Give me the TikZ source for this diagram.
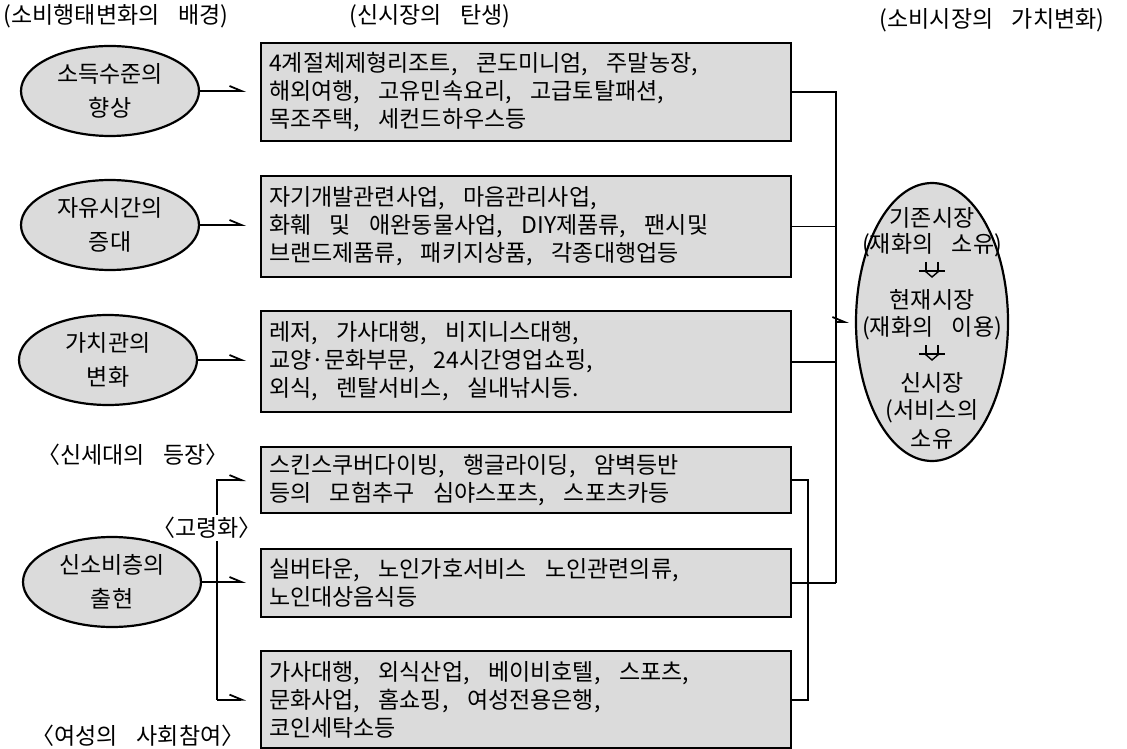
\documentclass[tikz,border=0pt]{standalone}
\usepackage{fontspec}
\setmainfont{Noto Sans CJK KR}[WordSpace=3.6]
\usetikzlibrary{arrows.meta, shapes.geometric, calc}

\begin{document}
\begin{tikzpicture}[x=0.5pt, y=-0.5pt,
        font=\fontsize{11.5}{14}\selectfont,
        cause/.style={ellipse, draw, line width=1.1pt, fill=black!14, minimum width=89pt, minimum height=45pt, inner sep=0pt, align=center, font=\fontsize{11.5}{17}\selectfont},
        market/.style={draw, line width=1.1pt, fill=black!14, anchor=north west, text width=257pt, inner xsep=4pt, inner ysep=0pt, align=flush left},
        value/.style={ellipse, draw, line width=1.1pt, fill=black!14, minimum width=76pt, minimum height=139pt, inner sep=0pt},
        harp/.style={-{Straight Barb[left, length=6pt, width=5pt]}, line width=0.9pt, shorten >=7pt},
        link/.style={line width=0.9pt},
        passarrow/.pic={
            \draw[line width=0.7pt] (-13,0) -- (13,0) (-6,-9) -- (-6,0) (6,-9) -- (6,0);
            \draw[line width=0.7pt] (-7,0) -- (0,6) -- (7,0);
        }]
        \useasboundingbox (0,0) rectangle (1127,748);

        \node (h1) at (116,16) {(소비행태변화의 배경)};
        \node (h2) at (430,16) {(신시장의 탄생)};
        \node (h3) at (992,20) {(소비시장의 가치변화)};

        \node[cause] (e1) at (110,91) {소득수준의\\향상};
        \node[cause] (e2) at (110,225) {자유시간의\\증대};
        \node[cause] (e3) at (108,360) {가치관의\\변화};
        \node[cause] (e4) at (112,582) {신소비층의\\출현};

        \node[market, minimum height=49pt] (b1) at (260,42) {4계절체제형리조트, 콘도미니엄, 주말농장,\\해외여행, 고유민속요리, 고급토탈패션,\\목조주택, 세컨드하우스등};
        \node[market, minimum height=50.5pt] (b2) at (260,175) {자기개발관련사업, 마음관리사업,\\화훼 및 애완동물사업, DIY제품류, 팬시및\\브랜드제품류, 패키지상품, 각종대행업등};
        \node[market, minimum height=50.5pt] (b3) at (260,310) {레저, 가사대행, 비지니스대행,\\교양·문화부문, 24시간영업쇼핑,\\외식, 렌탈서비스, 실내낚시등.};
        \node[market, minimum height=33pt] (b4) at (260,446) {스킨스쿠버다이빙, 행글라이딩, 암벽등반\\등의 모험추구 심야스포츠, 스포츠카등};
        \node[market, minimum height=34pt] (b5) at (260,548) {실버타운, 노인가호서비스 노인관련의류,\\노인대상음식등};
        \node[market, minimum height=48.5pt] (b6) at (260,650) {가사대행, 외식산업, 베이비호텔, 스포츠,\\문화사업, 홈쇼핑, 여성전용은행,\\코인세탁소등};

        \node[value] (mk) at (932,322) {};
        \node (m1) at (932,218) {기존시장};
        \node (m2) at (932,245) {(재화의 소유)};
        \pic at (932,271) {passarrow};
        \node (m3) at (932,300) {현재시장};
        \node (m4) at (932,328) {(재화의 이용)};
        \pic at (932,354) {passarrow};
        \node (m5) at (932,383) {신시장};
        \node (m6) at (932,411) {(서비스의};
        \node (m7) at (932,439) {소유};

        \draw[harp] (e1.east) -- (e1.east -| b1.west);
        \draw[harp] (e2.east) -- (e2.east -| b2.west);
        \draw[harp] (e3.east) -- (e3.east -| b3.west);

        \coordinate (fork) at (217,0);
        \draw[harp] (fork |- b6.west) -- (fork |- b4.west) -- (b4.west);
        \draw[harp] (e4.east) -- (e4.east -| b5.west);
        \draw[harp] (fork |- b6.west) -- (b6.west);
        \node[fill=white, inner sep=1pt] (age) at (207,528) {〈고령화〉};
        \node (young) at (133,455) {〈신세대의 등장〉};
        \node (women) at (138,736) {〈여성의 사회참여〉};

        \coordinate (trunk) at (836,0);
        \coordinate (twig) at (808,0);
        \draw[link] (b1.east) -- (trunk |- b1.east) -- (trunk |- b5.east);
        \draw[link] (b2.east) -- (trunk |- b2.east);
        \draw[link] (b3.east) -- (trunk |- b3.east);
        \draw[link] (b4.east) -- (twig |- b4.east) -- (twig |- b6.east) -- (b6.east);
        \draw[link] (b5.east) -- (trunk |- b5.east);
        \draw[harp, shorten >=3pt] (trunk |- mk.west) -- (mk.west);
\end{tikzpicture}
\end{document}
